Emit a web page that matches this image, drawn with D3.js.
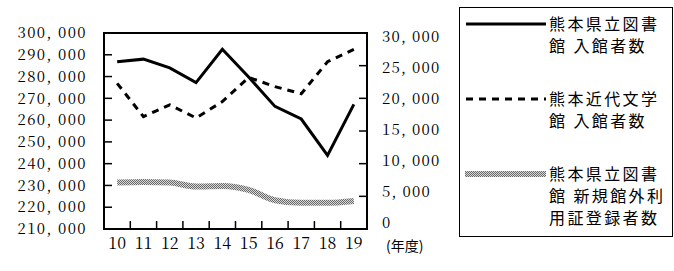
<!DOCTYPE html>
<html><head><meta charset="utf-8">
<script src="https://cdn.jsdelivr.net/npm/d3@7"></script>
<style>body{margin:0;background:#fff}svg{display:block}</style>
</head><body>
<svg id="c" width="674" height="271"></svg>
<script>
const years = ["10","11","12","13","14","15","16","17","18","19"];
const prefLibVisitors = [286800,288000,284000,277200,292500,279800,266300,260500,243800,267200];
const litMuseumVisitors = [22300,17200,19000,17000,19500,23200,21800,20700,25600,27500];
const newOutsideUsers = [7100,7200,7100,6500,6600,6000,4400,4000,4000,4300];
const leftTicks = [210000,220000,230000,240000,250000,260000,270000,280000,290000,300000];
const rightTicks = [0,5000,10000,15000,20000,25000,30000];
const legendLabels = [["熊本県立図書","館 入館者数"],["熊本近代文学","館 入館者数"],["熊本県立図書","館 新規館外利","用証登録者数"]];
const yearUnit = "(年度)";
const titleText = "熊本県立図書館 入館者数等の推移";

const SERIF = "'Noto Serif CJK JP','Liberation Serif',serif";
const SANS = "'Noto Sans CJK JP','Noto Sans',sans-serif";

const svg = d3.select("#c");
const m = {l:104, r:367, t:33, b:229};
const x = d3.scaleBand().domain(years).range([m.l, m.r]);
const yL = d3.scaleLinear().domain([210000,300000]).range([m.b, m.t]);
const yR = d3.scaleLinear().domain([0,30000]).range([m.b, m.t]);
const yRLab = d3.scaleLinear().domain([0,30000]).range([223, 37]);
const fmt = d => d3.format(",")(d).replace(",", ", ");

const defs = svg.append("defs");
const pat = defs.append("pattern").attr("id","dots").attr("width",2).attr("height",2).attr("patternUnits","userSpaceOnUse");
pat.append("rect").attr("width",2).attr("height",2).attr("fill","#d8d8d8");
pat.append("rect").attr("x",0).attr("y",0).attr("width",1).attr("height",1).attr("fill","#6a6a6a");
pat.append("rect").attr("x",1).attr("y",1).attr("width",1).attr("height",1).attr("fill","#6a6a6a");

// title (cropped at top in the reference)
svg.append("text").attr("x",245).attr("y",-3).attr("text-anchor","middle")
  .style("font-family",SANS).style("font-weight","bold").style("font-size","18px").text(titleText);

// left axis labels
svg.append("g").selectAll("text").data(leftTicks).join("text")
  .attr("x",87).attr("y",d=>yL(d)).attr("dy","0.35em").attr("text-anchor","end")
  .style("font-family",SERIF).style("font-size","15px").style("letter-spacing","1.4px").text(fmt);
// right axis labels
svg.append("g").selectAll("text").data(rightTicks).join("text")
  .attr("x",382).attr("y",d=>yRLab(d)).attr("dy","0.35em").attr("text-anchor","start")
  .style("font-family",SERIF).style("font-size","15px").style("letter-spacing","1.2px").text(fmt);
// x labels
svg.append("g").selectAll("text").data(years).join("text")
  .attr("x",d=>x(d)+x.bandwidth()/2).attr("y",243).attr("dy","0.35em").attr("text-anchor","middle")
  .style("font-family",SERIF).style("font-size","16px").text(d=>d);
svg.append("text").attr("x",386).attr("y",246).attr("dy","0.35em")
  .style("font-family",SANS).style("font-size","14px").text(yearUnit);

// ticks (inward)
const tk = svg.append("g").attr("stroke","#000").attr("stroke-width",1.5);
tk.selectAll(".l").data(leftTicks.filter(d=>d>210000&&d<300000)).join("line")
  .attr("x1",m.l).attr("x2",m.l+8).attr("y1",d=>yL(d)).attr("y2",d=>yL(d));
tk.selectAll(".r").data(rightTicks.filter(d=>d>0&&d<30000)).join("line")
  .attr("x1",m.r).attr("x2",m.r-8).attr("y1",d=>yR(d)).attr("y2",d=>yR(d));
tk.selectAll(".b").data(years.slice(1)).join("line")
  .attr("x1",d=>x(d)).attr("x2",d=>x(d)).attr("y1",m.b).attr("y2",m.b-8);

// lines
const cx = (d,i)=>x(years[i])+x.bandwidth()/2;
svg.append("path").datum(newOutsideUsers)
  .attr("d", d3.line().x(cx).y(d=>yR(d)).curve(d3.curveMonotoneX))
  .attr("fill","none").attr("stroke","url(#dots)").attr("stroke-width",6);
svg.append("path").datum(litMuseumVisitors)
  .attr("d", d3.line().x(cx).y(d=>yR(d)))
  .attr("fill","none").attr("stroke","#000").attr("stroke-width",3).attr("stroke-dasharray","7,6");
svg.append("path").datum(prefLibVisitors)
  .attr("d", d3.line().x(cx).y(d=>yL(d)))
  .attr("fill","none").attr("stroke","#000").attr("stroke-width",3).attr("stroke-linejoin","miter");

// frame
svg.append("rect").attr("x",m.l).attr("y",m.t).attr("width",m.r-m.l).attr("height",m.b-m.t)
  .attr("fill","none").attr("stroke","#000").attr("stroke-width",2);

// legend
svg.append("rect").attr("x",459.5).attr("y",7.5).attr("width",213).attr("height",229)
  .attr("fill","none").attr("stroke","#000").attr("stroke-width",1);
const legY = [24,99,174];
const lg = svg.append("g");
lg.append("line").attr("x1",466).attr("x2",546).attr("y1",legY[0]).attr("y2",legY[0]).attr("stroke","#000").attr("stroke-width",3);
lg.append("line").attr("x1",466).attr("x2",546).attr("y1",legY[1]).attr("y2",legY[1]).attr("stroke","#000").attr("stroke-width",3).attr("stroke-dasharray","7,6");
lg.append("line").attr("x1",465).attr("x2",546).attr("y1",legY[2]).attr("y2",legY[2]).attr("stroke","url(#dots)").attr("stroke-width",6);
legendLabels.forEach((lines,i)=>{
  lines.forEach((t,j)=>{
    lg.append("text").attr("x",549).attr("y",legY[i]+j*22).attr("dy","0.35em")
      .style("font-family",SANS).style("font-size","16px").style("letter-spacing","2.4px").text(t);
  });
});
</script>
</body></html>
